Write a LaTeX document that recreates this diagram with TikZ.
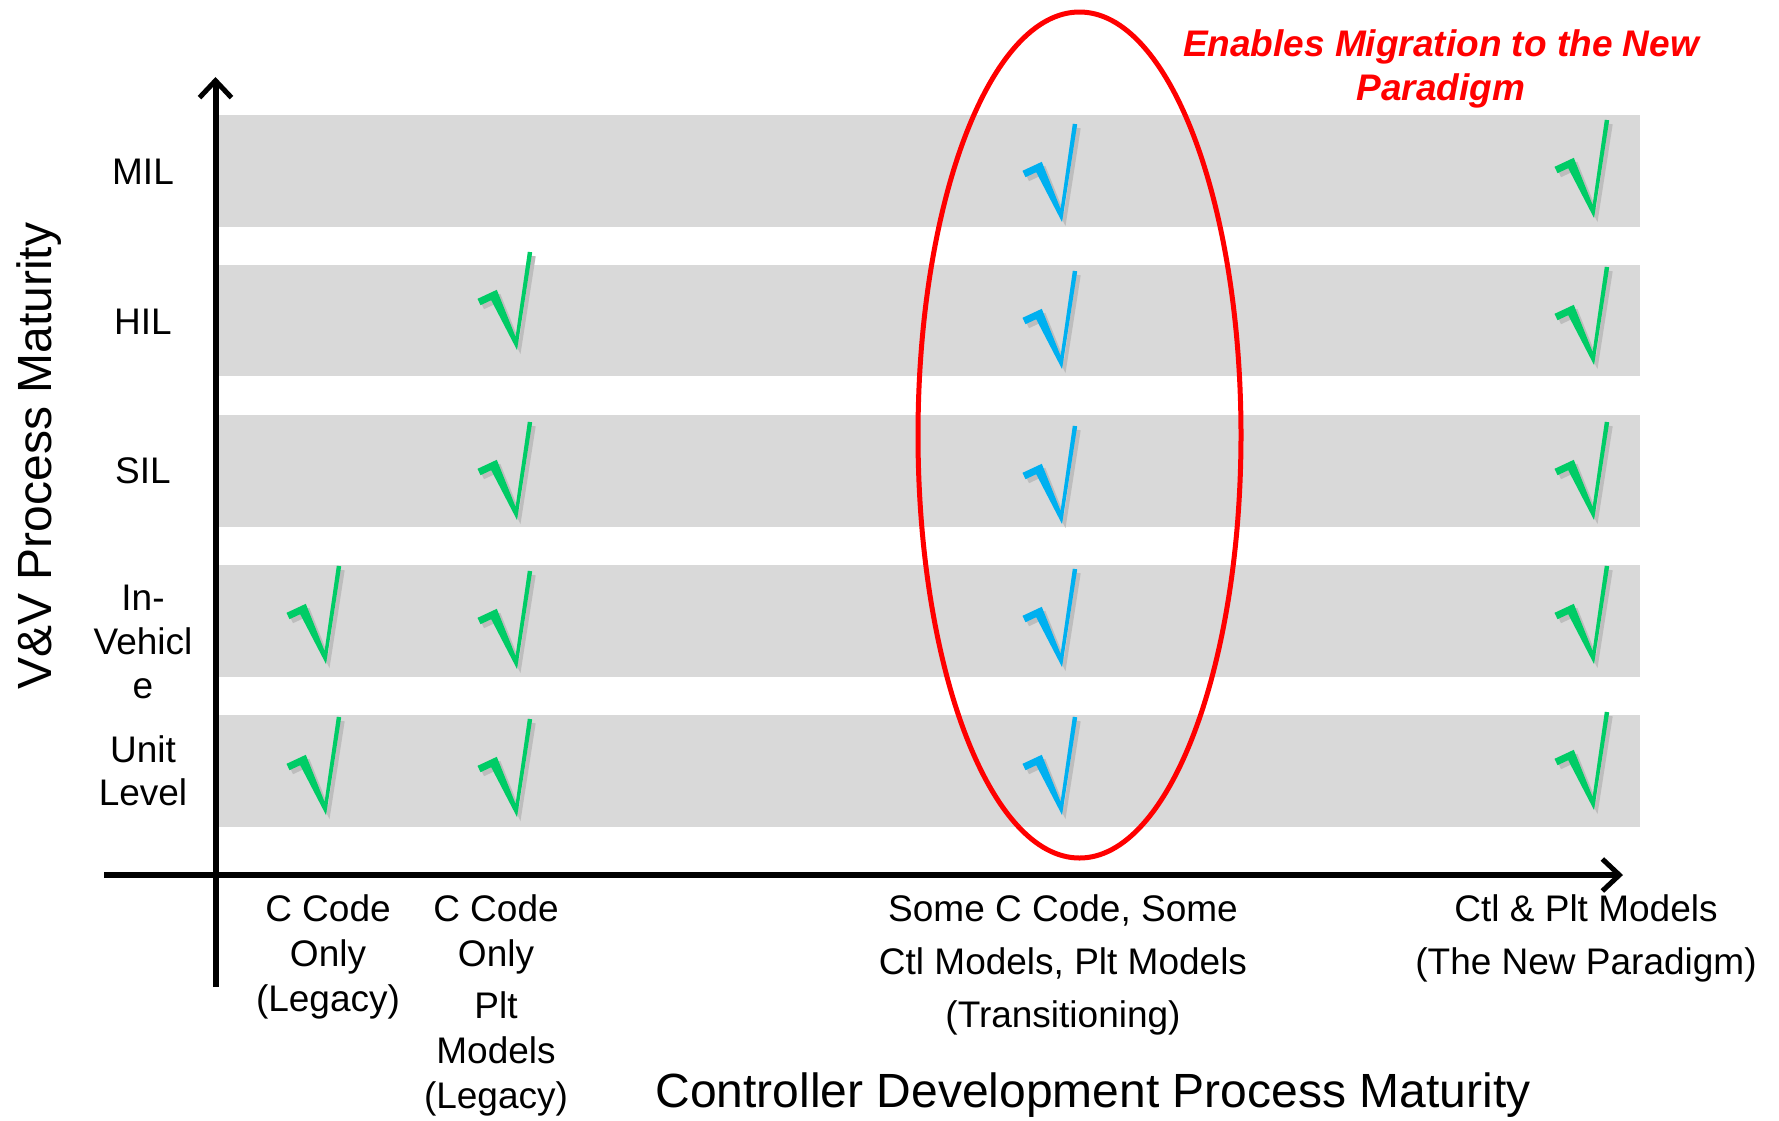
\documentclass[tikz,border=0pt]{standalone}
\usepackage{fontspec}
\setmainfont{Liberation Sans}
\usetikzlibrary{arrows.meta}

\definecolor{bandgray}{HTML}{D9D9D9}
\definecolor{tickgreen}{HTML}{00CC66}
\definecolor{tickblue}{HTML}{00B0F0}
\definecolor{shadowgray}{HTML}{BDBDBD}

\begin{document}
\begin{tikzpicture}[
    x=1pt, y=-1pt,
    % grey band behind each V&V level
    band/.style={fill=bandgray},
    % both axes, with an open arrow head
    axis/.style={line width=6pt, -{Straight Barb[length=17pt, width=32pt, line width=5pt]}},
    % text styles
    rowlabel/.style={font=\fontsize{37}{43}\selectfont, align=center, inner sep=0pt},
    collabel/.style={font=\fontsize{37}{45}\selectfont, align=center, inner sep=0pt, anchor=north},
    axtitle/.style={font=\fontsize{48}{56}\selectfont, inner sep=0pt, anchor=base},
    % tick mark with its grey shadow (origin = lower tip)
    chk/.pic={
        \fill[shadowgray, shift={(3.5,4)}] (-38.5,-51.2) -- (-19.2,-60.2) -- (-0.4,-13.1) -- (11.8,-98.3)
            -- (16.2,-97.7) -- (1,0) -- (-24.8,-49.8) -- (-35.5,-44.8) -- cycle;
        \fill (-38.5,-51.2) -- (-19.2,-60.2) -- (-0.4,-13.1) -- (11.8,-98.3)
            -- (16.2,-97.7) -- (1,0) -- (-24.8,-49.8) -- (-35.5,-44.8) -- cycle;
    }
]
    \useasboundingbox (0,0) rectangle (1779,1120);

    % ==========================================
    % 1. BANDS (one per level)
    % ==========================================
    \fill[band] (218,115) rectangle (1640,227);   % MIL
    \fill[band] (218,265) rectangle (1640,376);   % HIL
    \fill[band] (218,415) rectangle (1640,527);   % SIL
    \fill[band] (218,565) rectangle (1640,677);   % In-Vehicle
    \fill[band] (218,715) rectangle (1640,827);   % Unit Level

    % ==========================================
    % 2. AXES
    % ==========================================
    \coordinate (ybot) at (215.5,987);
    \coordinate (ytop) at (215.5,77);
    \coordinate (xleft) at (104,875);
    \coordinate (xright) at (1623,875);
    \draw[axis] (ybot) -- (ytop);
    \draw[axis] (xleft) -- (xright);

    % Level names on the left
    \node[rowlabel] (mil) at (143,172) {MIL};
    \node[rowlabel] (hil) at (143,322) {HIL};
    \node[rowlabel] (sil) at (143,471) {SIL};
    \node[rowlabel, font=\fontsize{37}{44}\selectfont] (inveh) at (143,642) {In-\\Vehicl\\e};
    \node[rowlabel] (unit) at (143,771) {Unit\\Level};

    % Stages along the bottom
    \node[collabel] (cclegacy) at (328,894) {C Code\\Only\\(Legacy)};
    \node[collabel] (pltlegacy) at (496,894) {C Code\\Only\\[7pt]Plt\\Models\\(Legacy)};
    \node[collabel, font=\fontsize{37}{53}\selectfont] (transit) at (1063,894)
        {Some C Code, Some\\Ctl Models, Plt Models\\(Transitioning)};
    \node[collabel, font=\fontsize{37}{53}\selectfont] (newpar) at (1586,894)
        {Ctl \& Plt Models\\(The New Paradigm)};

    % Axis titles
    \node[axtitle] (xtitle) at (1093,1107) {Controller Development Process Maturity};
    \node[axtitle, rotate=90] (ytitle) at (51,456) {V\&V Process Maturity};

    % ==========================================
    % 3. TICK MARKS
    % ==========================================
    % C Code Only (Legacy)
    \pic[color=tickgreen] at (325,664) {chk};
    \pic[color=tickgreen] at (325,815) {chk};
    % C Code Only, Plt Models (Legacy)
    \pic[color=tickgreen] at (516,350) {chk};
    \pic[color=tickgreen] at (516,520) {chk};
    \pic[color=tickgreen] at (516,669) {chk};
    \pic[color=tickgreen] at (516,817) {chk};
    % Transitioning
    \pic[color=tickblue] at (1061,222) {chk};
    \pic[color=tickblue] at (1061,369) {chk};
    \pic[color=tickblue] at (1061,524) {chk};
    \pic[color=tickblue] at (1061,667) {chk};
    \pic[color=tickblue] at (1061,815) {chk};
    % The New Paradigm
    \pic[color=tickgreen] at (1593,218) {chk};
    \pic[color=tickgreen] at (1593,365) {chk};
    \pic[color=tickgreen] at (1593,520) {chk};
    \pic[color=tickgreen] at (1593,664) {chk};
    \pic[color=tickgreen] at (1593,810) {chk};

    % ==========================================
    % 4. HIGHLIGHT OF THE TRANSITION STAGE
    % ==========================================
    \draw[red, line width=5pt] (1079.5,435) ellipse [x radius=161.5pt, y radius=423pt];
    \node[font=\fontsize{37}{44}\selectfont\bfseries\itshape, text=red, align=center, inner sep=0pt]
        (migration) at (1441,68.6) {Enables Migration to the New\\Paradigm};

\end{tikzpicture}
\end{document}
